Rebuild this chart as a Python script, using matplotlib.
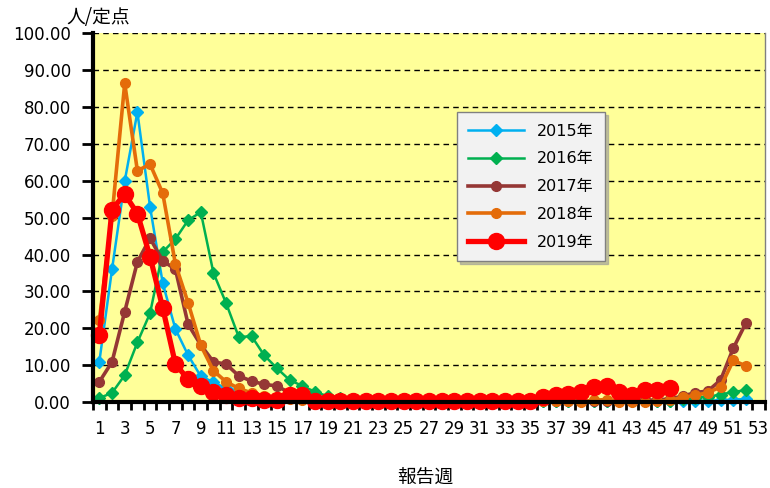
import numpy as np
import matplotlib
matplotlib.use("Agg")
import matplotlib.pyplot as plt

plt.rcParams['font.family'] = ['DejaVu Sans', 'Noto Sans CJK JP']

# Weekly values (per sentinel site)
weeks = list(range(1, 53))

y2015 = [11.0, 36.0, 59.9, 78.6, 52.9, 32.2, 19.8, 12.7, 7.0, 5.4, 3.7, 3.2, 2.2, 1.5, 1.2, 1.0, 0.8,
         0.6, 0.5, 0.4, 0.4, 0.3, 0.3, 0.3, 0.2, 0.2, 0.2, 0.2, 0.2, 0.2, 0.2, 0.2, 0.2, 0.2, 0.2,
         0.2, 0.2, 0.2, 0.2, 0.2, 0.2, 0.2, 0.2, 0.2, 0.2, 0.3, 0.3, 0.4, 0.4, 0.5, 0.7, 0.8]
y2016 = [1.1, 2.5, 7.3, 16.2, 24.1, 40.7, 44.2, 49.3, 51.5, 35.0, 26.8, 17.6, 17.9, 12.7, 9.2, 6.0, 4.4,
         2.8, 1.6, 1.0, 0.7, 0.5, 0.4, 0.3, 0.3, 0.3, 0.2, 0.2, 0.2, 0.2, 0.2, 0.2, 0.2, 0.2, 0.2,
         0.2, 0.2, 0.2, 0.2, 0.2, 0.2, 0.2, 0.3, 0.3, 0.3, 0.4, 0.9, 1.2, 1.5, 2.0, 2.8, 3.2]
y2017 = [5.5, 10.9, 24.5, 38.0, 44.4, 38.3, 36.0, 21.1, 15.5, 10.9, 10.3, 7.1, 5.7, 4.8, 4.4, 2.5, 1.8,
         1.2, 0.9, 0.7, 0.6, 0.5, 0.5, 0.4, 0.4, 0.3, 0.3, 0.3, 0.3, 0.3, 0.3, 0.3, 0.3, 0.3, 0.3,
         0.3, 0.3, 0.3, 0.3, 0.3, 0.3, 0.4, 0.4, 0.5, 0.6, 0.9, 1.6, 2.6, 3.0, 6.0, 14.6, 21.5]
y2018 = [22.2, 50.5, 86.4, 62.7, 64.5, 56.6, 37.4, 26.9, 15.4, 8.5, 5.5, 3.7, 2.5, 1.7, 1.2, 0.9, 0.7,
         0.5, 0.4, 0.4, 0.3, 0.3, 0.3, 0.2, 0.2, 0.2, 0.2, 0.2, 0.2, 0.2, 0.2, 0.2, 0.2, 0.2, 0.2,
         0.2, 0.2, 0.2, 0.1, 0.5, 0.7, 0.1, 0.1, 0.1, 0.2, 0.5, 1.3, 1.8, 2.6, 4.1, 11.3, 9.8]
y2019 = [18.2, 52.2, 56.4, 51.1, 39.4, 25.5, 10.3, 6.2, 4.4, 2.8, 2.0, 1.2, 1.1, 0.7, 0.7, 1.8, 2.0,
         0.4, 0.4, 0.4, 0.4, 0.3, 0.3, 0.3, 0.3, 0.3, 0.3, 0.3, 0.3, 0.3, 0.3, 0.3, 0.3, 0.3, 0.3,
         1.4, 1.9, 2.2, 2.8, 4.1, 4.4, 2.8, 1.9, 3.3, 3.4, 3.9]

series = [
    ("2015年", y2015, "#00B0F0", "D", 1.8, 6),
    ("2016年", y2016, "#00B050", "D", 1.8, 6),
    ("2017年", y2017, "#953735", "o", 2.6, 7),
    ("2018年", y2018, "#E46C0A", "o", 2.6, 7),
    ("2019年", y2019, "#FF0000", "o", 3.8, 11.5),
]

fig = plt.figure(figsize=(7.7, 4.88), dpi=100)
ax = fig.add_axes([0.1208, 0.176, 0.8727, 0.756])
ax.set_facecolor("#FFFF99")

for label, vals, col, mk, lw, ms in series:
    ax.plot(weeks[:len(vals)], vals, color=col, marker=mk, lw=lw, ms=ms,
            label=label, solid_joinstyle='miter', clip_on=False)

ax.set_xlim(0.5, 53.5)
ax.set_ylim(0, 100)
ax.set_yticks(np.arange(0, 101, 10))
ax.set_yticklabels([f"{v:.2f}" for v in np.arange(0, 101, 10)], fontsize=12)
ax.set_xticks(range(1, 54, 2))
ax.set_xticklabels([str(w) for w in range(1, 54, 2)], fontsize=12)
ax.set_xticks(np.arange(0.5, 54, 1), minor=True)
ax.tick_params(axis='x', which='major', length=0, pad=13)
ax.tick_params(axis='x', which='minor', length=6, width=2, direction='out')
ax.tick_params(axis='y', length=8, width=2, direction='out', pad=8)

ax.grid(axis='y', color='black', linestyle=(0, (4, 3)), lw=1)
ax.set_axisbelow(True)
ax.spines['left'].set_linewidth(3)
ax.spines['bottom'].set_linewidth(3)
ax.spines['top'].set_visible(False)
ax.spines['right'].set_color('#808080')
ax.spines['right'].set_linewidth(1)

fig.text(0.086, 0.952, "人/定点", fontsize=13.5, family=['Noto Sans CJK JP'])
fig.text(0.552, 0.022, "報告週", fontsize=13.5, family=['Noto Sans CJK JP'],
         ha='center', va='center')

leg = ax.legend(loc='upper left', bbox_to_anchor=(0.530, 0.807),
                prop={'family': ['DejaVu Sans', 'Noto Sans CJK JP'], 'size': 11.5},
                handlelength=3.5, labelspacing=0.8, borderpad=0.7,
                fancybox=False, shadow={'color': '#999999', 'alpha': 0.6},
                framealpha=1, facecolor='#F2F2F2', edgecolor='#808080')
leg.get_frame().set_linewidth(1)

fig.savefig("out.png", dpi=100)
